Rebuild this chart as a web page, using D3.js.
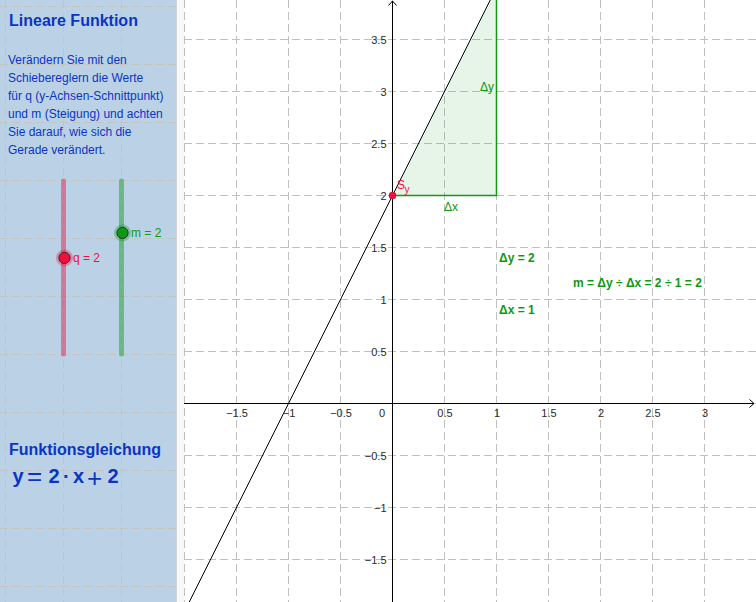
<!DOCTYPE html>
<html><head><meta charset="utf-8">
<script src="https://cdn.jsdelivr.net/npm/d3@7/dist/d3.min.js"></script>
<style>
html,body{margin:0;padding:0;background:#fff;overflow:hidden}
svg{display:block;font-family:"Liberation Sans",Arial,sans-serif}
</style></head><body>
<svg id="c" width="756" height="602"></svg>
<script>
const xTicks=[-1.5,-1,-0.5,0.5,1,1.5,2,2.5,3];
const yTicks=[-1.5,-1,-0.5,0.5,1,1.5,2,2.5,3,3.5];
const xGrid=[-2,-1.5,-1,-0.5,0,0.5,1,1.5,2,2.5,3,3.5];
const yGrid=[-1.5,-1,-0.5,0,0.5,1,1.5,2,2.5,3,3.5];
const panelCols=[0,1,2];
const panelRows=[0,1,2,3,4,5,6,7,8,9,10];
const q=[2], m=[2];
const qDomain=[-3,6], mDomain=[-5,5];
const dx=[1];
const lineXs=[-2,2];
const intro=["Verändern Sie mit den","Schiebereglern die Werte","für q (y-Achsen-Schnittpunkt)","und m (Steigung) und achten","Sie darauf, wie sich die","Gerade verändert."];

const blue="#0a35c4", green="#0d9a12", red="#f0103c";
const svg=d3.select("#c");
const x=d3.scaleLinear().domain([0,1]).range([392.5,496.5]);
const y=d3.scaleLinear().domain([0,1]).range([403.5,299.5]);
const px=d3.scaleLinear().domain([0,1]).range([5.5,63.5]);
const py=d3.scaleLinear().domain([0,1]).range([6.5,64.5]);
const sq=d3.scaleLinear().domain(qDomain).range([354,181]);
const sm=d3.scaleLinear().domain(mDomain).range([354,181]);
const f=v=>2*v+q[0];

// plot clip
svg.append("clipPath").attr("id","plot").append("rect").attr("x",184).attr("y",0).attr("width",572).attr("height",602);
const plot=svg.append("g").attr("clip-path","url(#plot)");
const gridStyle=s=>s.attr("stroke","#c0c0c0").attr("stroke-width",1).attr("stroke-dasharray","8 4").attr("fill","none");
plot.selectAll(".gv").data(xGrid).join("line").attr("x1",d=>x(d)).attr("x2",d=>x(d)).attr("y1",0).attr("y2",602).call(gridStyle);
plot.selectAll(".gh").data(yGrid).join("line").attr("x1",184).attr("x2",756).attr("y1",d=>y(d)).attr("y2",d=>y(d)).call(gridStyle);
svg.append("line").attr("x1",184.5).attr("x2",184.5).attr("y1",0).attr("y2",602).call(gridStyle);

// triangle
const tri=[[0,q[0]],[dx[0],q[0]],[dx[0],q[0]+m[0]*dx[0]]];
plot.append("path").attr("d","M"+tri.map(p=>[x(p[0]),y(p[1])].join(",")).join("L")+"Z")
  .attr("fill",green).attr("fill-opacity",0.1).attr("stroke","none");
plot.append("path").attr("d","M"+[tri[0],tri[1],tri[2]].map(p=>[x(p[0]),y(p[1])].join(",")).join("L"))
  .attr("fill","none").attr("stroke",green).attr("stroke-width",1.5);

// axes
const xAxis=d3.axisBottom(x).tickValues(xTicks).tickSize(0).tickPadding(0).tickFormat(d=>String(d).replace("-","\u2212"));
const ga=svg.append("g").attr("transform","translate(0,403.5)").call(xAxis);
ga.select(".domain").remove();
ga.selectAll("text").attr("y",5.7).attr("dy","0.71em").attr("font-size",11).attr("font-family","Liberation Sans").attr("fill","#2a2a2a");
const yAxis=d3.axisLeft(y).tickValues(yTicks).tickSize(0).tickPadding(0).tickFormat(d=>String(d).replace("-","\u2212"));
const gb=svg.append("g").attr("transform","translate(392.5,0)").call(yAxis);
gb.select(".domain").remove();
gb.selectAll("text").attr("x",-6).attr("dy","0.35em").attr("font-size",11).attr("font-family","Liberation Sans").attr("fill","#2a2a2a");
svg.append("text").attr("x",382).attr("y",417).attr("text-anchor","middle").attr("font-size",11).attr("fill","#2a2a2a").text("0");
svg.append("line").attr("x1",184).attr("x2",754).attr("y1",y(0)).attr("y2",y(0)).attr("stroke","#000");
svg.append("line").attr("x1",x(0)).attr("x2",x(0)).attr("y1",1).attr("y2",602).attr("stroke","#000");
svg.append("path").attr("d",`M${x(0)-4},5.5L${x(0)},1L${x(0)+4},5.5`).attr("fill","none").attr("stroke","#000");
svg.append("path").attr("d",`M749.5,${y(0)-4}L754,${y(0)}L749.5,${y(0)+4}`).attr("fill","none").attr("stroke","#000");

// line
plot.append("path").datum(lineXs).attr("d",d3.line().x(d=>x(d)).y(d=>y(f(d)))).attr("stroke","#000").attr("stroke-width",1).attr("fill","none");

// intercept
svg.append("circle").attr("cx",x(0)).attr("cy",y(q[0])).attr("r",3.5).attr("fill",red).attr("stroke","#a01030").attr("stroke-width",.6);
svg.append("text").attr("x",397).attr("y",189).attr("font-size",12).attr("fill",red).text("S");
svg.append("text").attr("x",404.5).attr("y",193).attr("font-size",10).attr("fill",red).text("y");

// labels
const lab=(t,a,b,s,w)=>svg.append("text").attr("x",a).attr("y",b).attr("font-size",s).attr("font-weight",w||"normal").attr("fill",green).text(t);
lab("Δy",480,91,12);
lab("Δx",444,211,12);
lab("Δy = 2",499,262,12,"bold");
lab("Δx = 1",499,314,12,"bold");
lab("m = Δy ÷ Δx = 2 ÷ 1 = 2",573,287,12,"bold");

// panel
svg.append("rect").attr("x",176).attr("y",0).attr("width",8).attr("height",602).attr("fill","#f8f8f8");
svg.append("rect").attr("x",0).attr("y",0).attr("width",176).attr("height",602).attr("fill","#bbd2e6");
svg.append("line").attr("x1",176.5).attr("x2",176.5).attr("y1",0).attr("y2",602).attr("stroke","#d5d5d5");
const panelGrid=s=>s.attr("stroke","#c4c4c0").attr("stroke-width",1).attr("stroke-dasharray","8 4");
svg.selectAll(".pv").data(panelCols).join("line").attr("x1",d=>px(d)).attr("x2",d=>px(d)).attr("y1",0).attr("y2",602).call(panelGrid);
svg.selectAll(".ph").data(panelRows).join("line").attr("x1",0).attr("x2",176).attr("y1",d=>py(d)).attr("y2",d=>py(d)).call(panelGrid);

svg.append("text").attr("x",9).attr("y",26).attr("font-size",16).attr("font-weight","bold").attr("fill",blue).text("Lineare Funktion");
svg.selectAll(".intro").data(intro).join("text").attr("x",8).attr("y",(d,i)=>64+i*18).attr("font-size",12).attr("fill",blue).text(d=>d);
svg.append("text").attr("x",9).attr("y",455).attr("font-size",16).attr("font-weight","bold").attr("fill",blue).text("Funktionsgleichung");

// equation, set piece by piece like a math renderer: bold letters and digits, thin wide operators
const eqPieces=[["y",12.5,20,"bold",482.5],["=",27,26,"normal",485],[m[0],48.5,20,"bold",482.5],["·",63,20,"bold",482.5],["x",73,20,"bold",482.5],["+",87,26,"normal",486.5],[q[0],107.5,20,"bold",482.5]];
svg.selectAll(".eq").data(eqPieces).join("text").attr("x",d=>d[1]).attr("y",d=>d[4]).attr("font-size",d=>d[2]).attr("font-weight",d=>d[3]).attr("fill",blue).text(d=>d[0]);

// sliders
const slider=(scale,val,cx,col,name,tx)=>{
  svg.append("line").attr("x1",cx).attr("x2",cx).attr("y1",scale.range()[0]).attr("y2",scale.range()[1]).attr("stroke",col).attr("stroke-opacity",.45).attr("stroke-width",5).attr("stroke-linecap","round");
  const cy=scale(val);
  svg.append("circle").attr("cx",cx+1).attr("cy",cy).attr("r",8.5).attr("fill",col).attr("fill-opacity",.35);
  svg.append("circle").attr("cx",cx+1).attr("cy",cy).attr("r",5.6).attr("fill",col).attr("stroke","#222").attr("stroke-width",.9);
  svg.append("text").attr("x",tx).attr("y",cy+4).attr("font-size",12).attr("fill",col).text(`${name} = ${val}`);
};
slider(sq,q[0],63.5,red,"q",73);
slider(sm,m[0],121.5,green,"m",131);
</script>
</body></html>
